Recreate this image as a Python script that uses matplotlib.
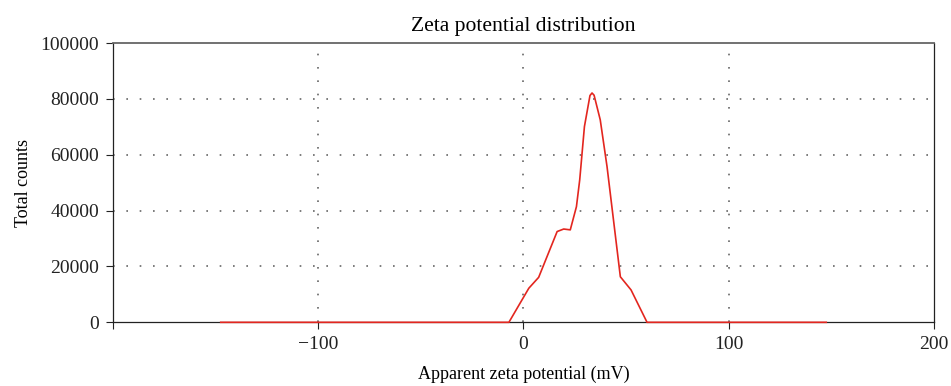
import matplotlib.pyplot as plt

# Zeta potential distribution (mV vs total counts)
zeta_mv = [-147.5, -7.1, 2.6, 7.4, 16.4, 19.6, 22.8, 25.8, 27.4, 29.7,
           32.4, 33.4, 34.4, 37.4, 40.7, 47.2, 52.4, 60.2, 147.5]
counts = [0, 0, 12200, 16100, 32500, 33400, 33100, 41400, 51000, 70100,
          81200, 82100, 81300, 72500, 55800, 16300, 11600, 0, 0]

x_ticks = [-200, -100, 0, 100, 200]
x_tick_labels = ["", "\u2212100", "0", "100", "200"]
y_ticks = [0, 20000, 40000, 60000, 80000, 100000]

plt.rcParams['font.family'] = ['Liberation Serif', 'DejaVu Serif']
plt.rcParams['font.size'] = 13

fig = plt.figure(figsize=(9.51, 3.86), dpi=100)
ax = fig.add_axes([0.1188, 0.165, 0.8633, 0.7236])

ax.plot(zeta_mv, counts, color="#e3261f", linewidth=1.2, zorder=3, clip_on=False)

ax.set_xlim(-200, 200)
ax.set_ylim(0, 100000)
ax.set_xticks(x_ticks)
ax.set_xticklabels(x_tick_labels)
ax.set_yticks(y_ticks)

ax.tick_params(direction="out", length=5, width=0.8, pad=5, colors="#222222",
               labelsize=14)
ax.grid(True, color="#666666", linestyle=(0, (1, 7)), linewidth=1.2)

# no dotted lines sitting on the frame itself
ygrid = ax.yaxis.get_gridlines()
ygrid[0].set_visible(False)
ygrid[-1].set_visible(False)
xgrid = ax.xaxis.get_gridlines()
xgrid[0].set_visible(False)
xgrid[-1].set_visible(False)

for side in ["left", "bottom", "right"]:
    ax.spines[side].set_color("#222222")
    ax.spines[side].set_linewidth(0.9)
ax.spines["top"].set_color("#666666")
ax.spines["top"].set_linewidth(1.3)

ax.set_title("Zeta potential distribution", pad=9)
ax.set_xlabel("Apparent zeta potential (mV)", labelpad=9)
ax.set_ylabel("Total counts", labelpad=6)

fig.savefig("out.png", dpi=100)
